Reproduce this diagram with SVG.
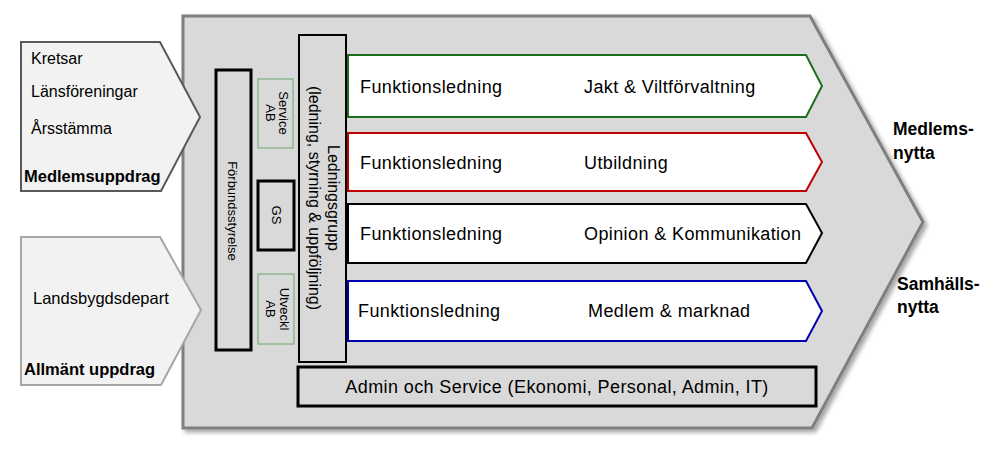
<svg xmlns="http://www.w3.org/2000/svg" width="1000" height="472" viewBox="0 0 1000 472">
<defs>
<style>
text{font-family:"Liberation Sans",Arial,sans-serif;fill:#000}
.t{font-size:18px;letter-spacing:0.4px}
.b{font-size:16.5px;font-weight:bold}
.o{font-size:17.5px;font-weight:bold}
.s{font-size:13px}
.fn{fill:#fff;stroke-width:2}
</style>
<filter id="sh" x="-5%" y="-5%" width="115%" height="115%"><feDropShadow dx="3" dy="3" stdDeviation="2" flood-color="#000" flood-opacity="0.35"/></filter>
</defs>
<rect width="1000" height="472" fill="#fff"/>
<g id="main"><polygon points="183,16 810,16 923,222 812,428 183,428" fill="#d9d9d9" stroke="#7f7f7f" stroke-width="3" filter="url(#sh)"/></g>
<g id="in1"><polygon points="21,42 160,42 200,117 161,191 21,191" fill="#f2f2f2" stroke="#595959" stroke-width="2"/>
<text class="s" style="font-size:16px" x="31" y="64">Kretsar</text><text class="s" style="font-size:16px" x="31" y="97">Länsföreningar</text><text class="s" style="font-size:16px" x="31" y="134">Årsstämma</text><text class="b" x="24" y="182">Medlemsuppdrag</text></g>
<g id="in2"><polygon points="21,237 160,237 201,310 161,385 21,385" fill="#f2f2f2" stroke="#a6a6a6" stroke-width="2"/>
<text class="s" style="font-size:16.5px" x="33" y="304">Landsbygdsdepart</text><text class="b" x="24" y="375">Allmänt uppdrag</text></g>
<g id="fs"><rect x="216" y="70" width="35" height="280" fill="#d9d9d9" stroke="#000" stroke-width="3"/><text class="s" transform="translate(228,211) rotate(90)" text-anchor="middle">Förbundsstyrelse</text></g>
<g id="sab"><rect x="258" y="79" width="35" height="69" fill="#d9d9d9" stroke="#6aa56a" stroke-width="1"/><text class="s" transform="translate(279,113) rotate(90)" text-anchor="middle">Service</text><text class="s" transform="translate(266,113) rotate(90)" text-anchor="middle">AB</text></g>
<g id="gs"><rect x="258" y="181" width="36" height="69" fill="#d9d9d9" stroke="#000" stroke-width="3"/><text class="s" transform="translate(272,215) rotate(90)" text-anchor="middle">GS</text></g>
<g id="uab"><rect x="258" y="274" width="36" height="70" fill="#d9d9d9" stroke="#6aa56a" stroke-width="1"/><text class="s" transform="translate(280,309) rotate(90)" text-anchor="middle">Utveckl</text><text class="s" transform="translate(266,309) rotate(90)" text-anchor="middle">AB</text></g>
<g id="lg"><rect x="299" y="35" width="47" height="327" fill="#d9d9d9" stroke="#000" stroke-width="2"/><text class="s" style="font-size:16px" transform="translate(328,198) rotate(90)" text-anchor="middle">Ledningsgrupp</text><text class="s" style="font-size:16px" transform="translate(309,198) rotate(90)" text-anchor="middle">(ledning, styrning &amp; uppföljning)</text></g>
<g id="f1"><polygon class="fn" points="348,55 806,55 822,86 806,117 348,117" stroke="#1e6e1e"/><text class="t" x="360" y="93">Funktionsledning</text><text class="t" x="584" y="93">Jakt &amp; Viltförvaltning</text></g>
<g id="f2"><polygon class="fn" points="348,133 806,133 822,162 806,191 348,191" stroke="#c00000"/><text class="t" x="360" y="169">Funktionsledning</text><text class="t" x="584" y="169">Utbildning</text></g>
<g id="f3"><polygon class="fn" points="348,204 806,204 822,233 806,263 348,263" stroke="#000"/><text class="t" x="360" y="240">Funktionsledning</text><text class="t" x="584" y="240">Opinion &amp; Kommunikation</text></g>
<g id="f4"><polygon class="fn" points="348,281 806,281 822,311 806,341 348,341" stroke="#0000b0"/><text class="t" x="358" y="317">Funktionsledning</text><text class="t" x="588" y="317">Medlem &amp; marknad</text></g>
<g id="admin"><rect x="298" y="367" width="518" height="39" fill="#d9d9d9" stroke="#000" stroke-width="3"/><text class="t" x="557" y="393" text-anchor="middle">Admin och Service (Ekonomi, Personal, Admin, IT)</text></g>
<g id="out"><text class="o" x="893" y="135">Medlems-</text><text class="o" x="893" y="159">nytta</text><text class="o" x="897" y="290">Samhälls-</text><text class="o" x="897" y="313">nytta</text></g>
<g id="connectors"/>
</svg>
